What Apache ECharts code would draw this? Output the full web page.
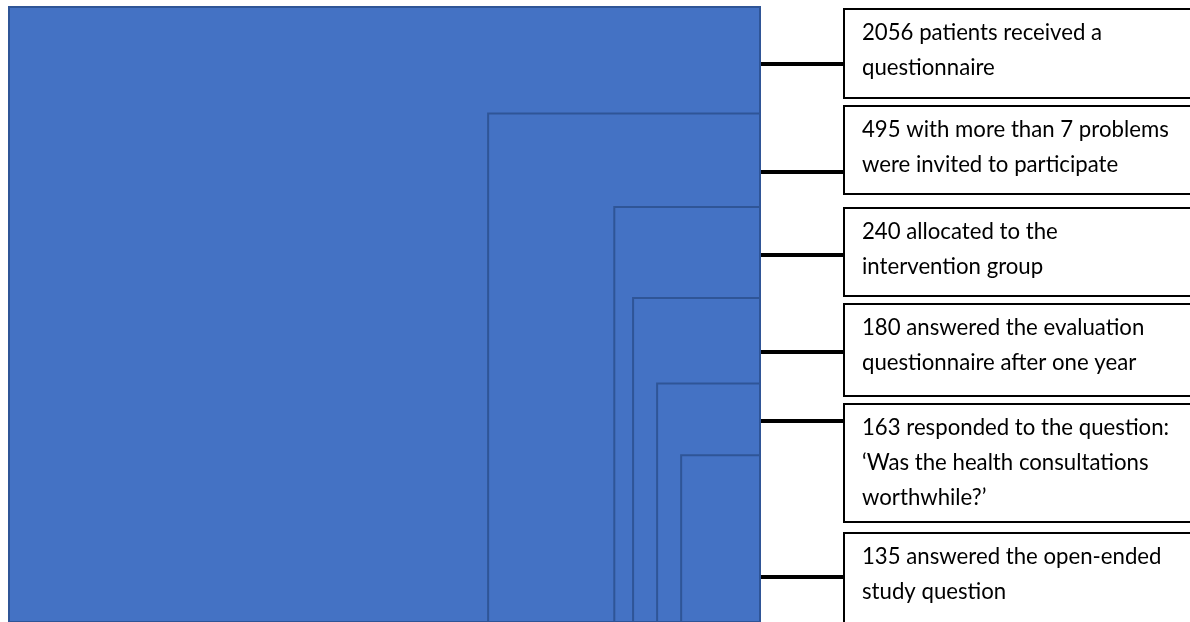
<!DOCTYPE html>
<html><head><meta charset="utf-8">
<script src="https://cdn.jsdelivr.net/npm/echarts/dist/echarts.min.js"></script>
<style>html,body{margin:0;padding:0;background:#fff}#c{width:1190px;height:622px}</style>
</head><body><div id="c"></div>
<script>
// ---- data ----
const counts = [2056, 495, 240, 180, 163, 135];
const stageLabels = [
  "2056 patients received a\nquestionnaire",
  "495 with more than 7 problems\nwere invited to participate",
  "240 allocated to the\nintervention group",
  "180 answered the evaluation\nquestionnaire after one year",
  "163 responded to the question:\n\u2018Was the health consultations\nworthwhile?\u2019",
  "135 answered the open-ended\nstudy question"
];
// nested box extents (share of the outer box, %)
const widthShare  = [100, 36.2, 19.4, 16.9, 13.7, 10.5];
const heightShare = [100, 82.7, 67.5, 52.7, 38.8, 27.1];

// ---- annotation layout (px) ----
const layout = {
  calloutLeft: 844,
  calloutTops:    [9, 106, 208, 304, 404, 533],
  calloutBottoms: [98, 194, 296, 396, 522, 660],
  connectorY:     [64, 172, 255, 352, 421, 577],
  textPadX: 18, textPadY: 6.5, lineHeight: 35
};

const chart = echarts.init(document.getElementById('c'), null, {renderer: 'canvas'});
const font = '22.2px Lato';

chart.setOption({
  animation: false,
  grid: {left: 9, right: 430, top: 7, bottom: -3},
  xAxis: {type: 'value', min: 0, max: 100, inverse: true, show: false},
  yAxis: {type: 'value', min: 0, max: 100, show: false},
  series: [
    {
      type: 'custom',
      clip: false,
      data: counts.map((c, i) => [widthShare[i], heightShare[i], c]),
      renderItem: function (params, api) {
        const p1 = api.coord([api.value(0), api.value(1)]);
        const p0 = api.coord([0, 0]);
        return {
          type: 'rect',
          shape: {x: p1[0], y: p1[1], width: p0[0] - p1[0], height: p0[1] - p1[1]},
          style: {fill: '#4472C4', stroke: '#2F5597', lineWidth: 2}
        };
      }
    },
    {
      type: 'custom',
      clip: false,
      data: counts.map((c, i) => [0, 0, c]),
      renderItem: function (params, api) {
        const i = params.dataIndex;
        const xr = api.coord([0, 0])[0];
        const top = layout.calloutTops[i], bot = layout.calloutBottoms[i];
        const cy = layout.connectorY[i];
        return {
          type: 'group',
          children: [
            {type: 'line', shape: {x1: xr + 1, y1: cy, x2: layout.calloutLeft, y2: cy},
             style: {stroke: '#000', lineWidth: 4}},
            {type: 'rect', shape: {x: layout.calloutLeft, y: top, width: 420, height: bot - top},
             style: {fill: '#fff', stroke: '#000', lineWidth: 2}},
            {type: 'text', style: {
              text: stageLabels[i], x: layout.calloutLeft + layout.textPadX, y: top + layout.textPadY,
              font: font, fill: '#000', lineHeight: layout.lineHeight, verticalAlign: 'top', align: 'left'
            }}
          ]
        };
      }
    }
  ]
});
</script></body></html>
